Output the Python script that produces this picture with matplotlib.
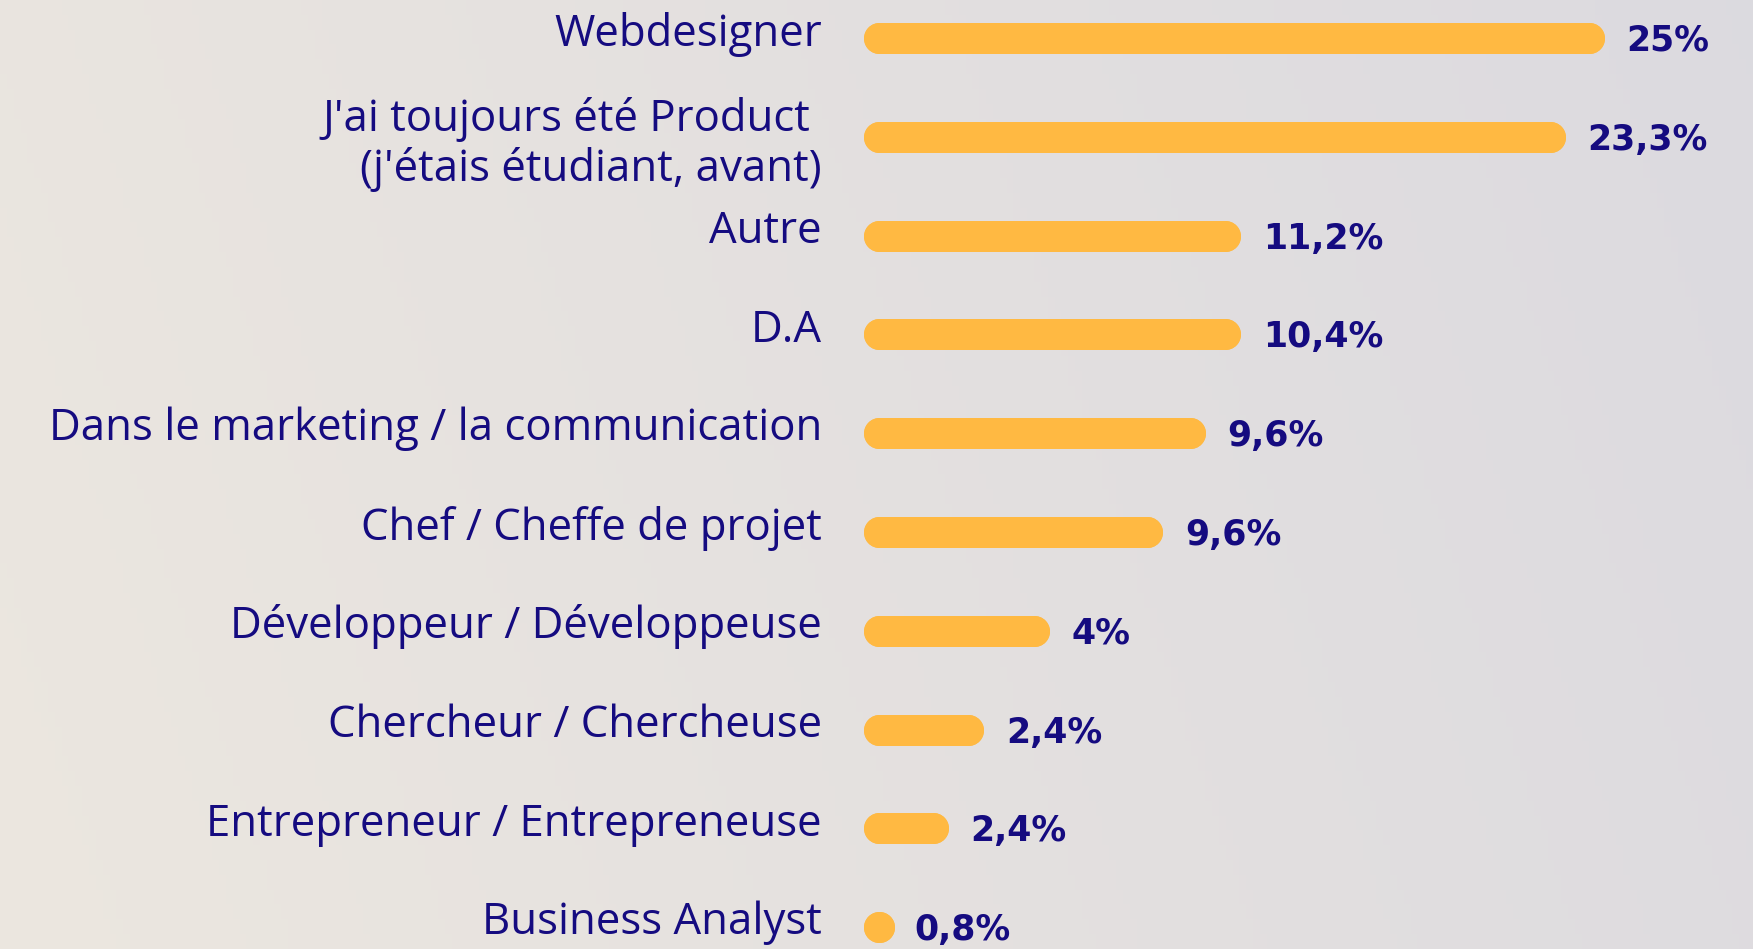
import numpy as np
import matplotlib.pyplot as plt

# categories, top to bottom
categories = [
    "Webdesigner",
    "J'ai toujours été Product \n(j'étais étudiant, avant)",
    "Autre",
    "D.A",
    "Dans le marketing / la communication",
    "Chef / Cheffe de projet",
    "Développeur / Développeuse",
    "Chercheur / Chercheuse",
    "Entrepreneur / Entrepreneuse",
    "Business Analyst",
]
pct_labels = ["25%", "23,3%", "11,2%", "10,4%", "9,6%", "9,6%", "4%", "2,4%", "2,4%", "0,8%"]
# bar lengths as drawn in the picture (not strictly proportional to the labels)
bar_lengths = [25.0, 23.7, 12.75, 12.75, 11.54, 10.12, 6.28, 4.08, 2.87, 0.98]

NAVY = "#150b80"
YELLOW = "#ffb942"

W, H = 1753, 949
fig = plt.figure(figsize=(W / 100, H / 100), dpi=100)

# gradient background
bg = fig.add_axes([0, 0, 1, 1], zorder=0)
gx = np.linspace(0, 1, 256)
gy = np.linspace(0, 1, 64)
X, Y = np.meshgrid(gx, gy)
t = np.clip(0.85 * X + 0.15 * (1 - Y), 0, 1)[..., None]
left = np.array([0.925, 0.905, 0.875])
right = np.array([0.862, 0.855, 0.875])
bg.imshow(left + (right - left) * t, aspect="auto", extent=[0, 1, 0, 1])
bg.axis("off")

ax = fig.add_axes([0, 0, 1, 1], zorder=1)
ax.patch.set_alpha(0)
px = 29.64  # pixels per unit
x0 = 863
ax.set_xlim(-x0 / px, (W - x0) / px)
step = 98.8
top = 38
ax.set_ylim((H - top) / step, -top / step)
ax.axis("off")

r = 15.5 / px  # round cap radius in data units
lw = 31 * 72 / 100
for i, (cat, lab, L) in enumerate(zip(categories, pct_labels, bar_lengths)):
    a = r
    b = max(L - r, a)
    # line with round ends, plus end markers so very short bars still show
    ax.plot([a, b], [i, i], color=YELLOW, lw=lw, solid_capstyle="round")
    ax.plot([a, b], [i, i], color=YELLOW, lw=0, marker="o", ms=lw, mew=0)
    ax.text(L + 22 / px, i + 0.03, lab, ha="left", va="center", color=NAVY,
            fontsize=25, fontweight="heavy", family="DejaVu Sans")
    dy = 0.075 if "\n" in cat else -0.04
    ax.text(-41 / px, i + dy, cat, ha="right", va="center", color=NAVY,
            fontsize=31.5, fontweight="medium", family="Open Sans", linespacing=1.15)

plt.savefig("out.png", dpi=100)
